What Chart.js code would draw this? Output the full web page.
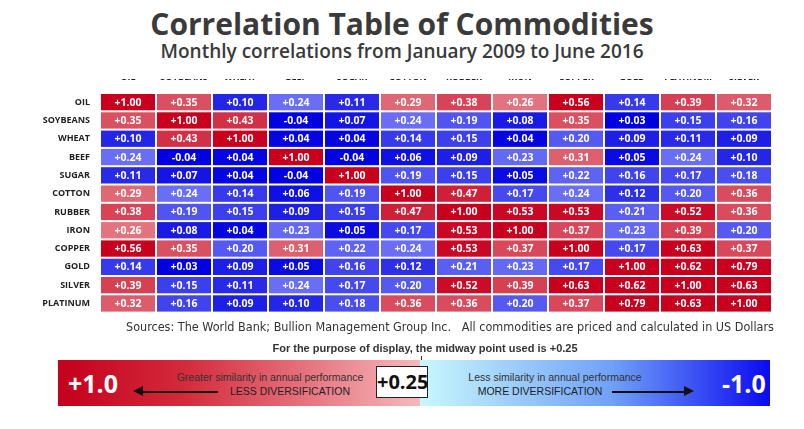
<!DOCTYPE html>
<html><head><meta charset="utf-8">
<script src="https://cdn.jsdelivr.net/npm/chart.js@4"></script>
<style>
body{margin:0;width:804px;height:429px;background:#fff;font-family:"Open Sans","Liberation Sans",sans-serif;position:relative;overflow:hidden;color:#333}
.abs{position:absolute}
</style></head><body>
<div class="abs" style="left:0;width:804px;top:3px;text-align:center;font-size:30px;font-weight:bold;color:#3a3a3a">Correlation Table of Commodities</div>
<div class="abs" style="left:0;width:804px;top:38px;text-align:center;font-size:19px;font-weight:600;color:#3a3a3a">Monthly correlations from January 2009 to June 2016</div>
<div class="abs" style="left:40px;top:74px;width:732px;height:246px"><canvas id="c"></canvas></div>
<div class="abs" style="left:90px;width:720px;top:319px;text-align:center;font-size:12.5px;font-family:'Liberation Sans Narrow','DejaVu Sans Condensed',sans-serif">Sources: The World Bank; Bullion Management Group Inc.&nbsp;&nbsp; All commodities are priced and calculated in US Dollars</div>
<div class="abs" style="left:0;width:850px;top:342px;text-align:center;font-size:11px;font-weight:bold;font-family:'Liberation Sans Narrow',sans-serif">For the purpose of display, the midway point used is +0.25</div>
<div class="abs" style="left:421px;top:356px;width:1px;height:12px;background:#333"></div>
<div class="abs" style="left:58px;top:360px;width:362px;height:46px;background:linear-gradient(to right,#c4001c,#d42a3c 35%,#f7b8bc)"></div>
<div class="abs" style="left:420px;top:360px;width:350px;height:46px;background:linear-gradient(to right,#c8f8fc,#70a0f8 55%,#0a0af0)"></div>
<div class="abs" style="left:68px;top:366px;color:#fff;font-size:25px;font-weight:bold">+1.0</div>
<div class="abs" style="left:722px;top:366px;color:#fff;font-size:25px;font-weight:bold">-1.0</div>
<div class="abs" style="left:376px;top:366px;width:50px;height:30px;background:#fff;border:1.5px solid #222;text-align:center;font-size:20px;font-weight:bold;line-height:30px;color:#111">+0.25</div>
<div class="abs" style="left:170px;width:200px;top:371px;text-align:center;font-size:10.5px;font-family:'Liberation Sans Narrow',sans-serif;color:#333">Greater similarity in annual performance</div>
<div class="abs" style="left:215px;width:150px;top:385px;text-align:center;font-size:10.5px;font-family:'Liberation Sans Narrow',sans-serif;color:#222">LESS DIVERSIFICATION</div>
<div class="abs" style="left:140px;top:391px;width:78px;height:1.5px;background:#111"></div>
<div class="abs" style="left:133px;top:386px;width:0;height:0;border-top:5px solid transparent;border-bottom:5px solid transparent;border-right:10px solid #111"></div>
<div class="abs" style="left:455px;width:200px;top:371px;text-align:center;font-size:10.5px;font-family:'Liberation Sans Narrow',sans-serif;color:#333">Less similarity in annual performance</div>
<div class="abs" style="left:465px;width:150px;top:385px;text-align:center;font-size:10.5px;font-family:'Liberation Sans Narrow',sans-serif;color:#222">MORE DIVERSIFICATION</div>
<div class="abs" style="left:612px;top:391px;width:72px;height:1.5px;background:#111"></div>
<div class="abs" style="left:684px;top:386px;width:0;height:0;border-top:5px solid transparent;border-bottom:5px solid transparent;border-left:10px solid #111"></div>
<script>
const colLabels=["OIL","SOYBEANS","WHEAT","BEEF","SUGAR","COTTON","RUBBER","IRON","COPPER","GOLD","PLATINUM","SILVER"];
const rowLabels=["OIL","SOYBEANS","WHEAT","BEEF","SUGAR","COTTON","RUBBER","IRON","COPPER","GOLD","SILVER","PLATINUM"];
const values=[
[1.00,0.35,0.10,0.24,0.11,0.29,0.38,0.26,0.56,0.14,0.39,0.32],
[0.35,1.00,0.43,-0.04,0.07,0.24,0.19,0.08,0.35,0.03,0.15,0.16],
[0.10,0.43,1.00,0.04,0.04,0.14,0.15,0.04,0.20,0.09,0.11,0.09],
[0.24,-0.04,0.04,1.00,-0.04,0.06,0.09,0.23,0.31,0.05,0.24,0.10],
[0.11,0.07,0.04,-0.04,1.00,0.19,0.15,0.05,0.22,0.16,0.17,0.18],
[0.29,0.24,0.14,0.06,0.19,1.00,0.47,0.17,0.24,0.12,0.20,0.36],
[0.38,0.19,0.15,0.09,0.15,0.47,1.00,0.53,0.53,0.21,0.52,0.36],
[0.26,0.08,0.04,0.23,0.05,0.17,0.53,1.00,0.37,0.23,0.39,0.20],
[0.56,0.35,0.20,0.31,0.22,0.24,0.53,0.37,1.00,0.17,0.63,0.37],
[0.14,0.03,0.09,0.05,0.16,0.12,0.21,0.23,0.17,1.00,0.62,0.79],
[0.39,0.15,0.11,0.24,0.17,0.20,0.52,0.39,0.63,0.62,1.00,0.63],
[0.32,0.16,0.09,0.10,0.18,0.36,0.36,0.20,0.37,0.79,0.63,1.00]];
const pts=[];
values.forEach((r,i)=>r.forEach((v,j)=>pts.push({x:colLabels[j],y:rowLabels[i],v})));
function col(v){
  if(v>=0.25){const t=Math.min(1,(v-0.25)/0.3);return `rgb(${Math.round(226-26*t)},${Math.round(120-120*t)},${Math.round(130-100*t)})`;}
  const t=Math.min(1,(0.25-v)/0.22);return `rgb(${Math.round(110-110*t)},${Math.round(115-115*t)},${Math.round(245-20*t)})`;
}
const cells={id:'cells',afterDatasetsDraw(ch){
  const c=ch.ctx,xs=ch.scales.x,ys=ch.scales.y;
  const w=xs.width/colLabels.length,h=ys.height/rowLabels.length;
  c.save();
  pts.forEach(p=>{
    const cx=xs.getPixelForValue(colLabels.indexOf(p.x)),cy=ys.getPixelForValue(rowLabels.indexOf(p.y));
    c.fillStyle=col(p.v);c.fillRect(cx-w/2+1,cy-h/2+1,w-2,h-2);
    c.fillStyle='#fff';c.font='bold 10.5px "Open Sans",sans-serif';c.textAlign='center';c.textBaseline='middle';
    c.fillText((p.v<0?'-':'+')+Math.abs(p.v).toFixed(2),cx,cy+0.5);
  });
  c.restore();
}};
new Chart(document.getElementById('c'),{
  type:'scatter',
  data:{datasets:[{data:pts,pointRadius:0}]},
  options:{responsive:true,maintainAspectRatio:false,animation:false,
    plugins:{legend:{display:false},tooltip:{enabled:false}},
    layout:{padding:{top:5}},
    scales:{
      x:{type:'category',labels:colLabels,position:'top',offset:true,grid:{display:false},border:{display:false},
         ticks:{color:'#222',font:{size:9,weight:'bold',family:'Open Sans'},padding:2,maxRotation:0,autoSkip:false},afterFit(s){s.height=14;}},
      y:{type:'category',labels:rowLabels,offset:true,grid:{display:false},border:{display:false},
         ticks:{color:'#222',font:{size:9,weight:'bold',family:'Open Sans'},padding:2,autoSkip:false},afterFit(s){s.width=60;}}
    }},
  plugins:[cells]
});
</script>
</body></html>
